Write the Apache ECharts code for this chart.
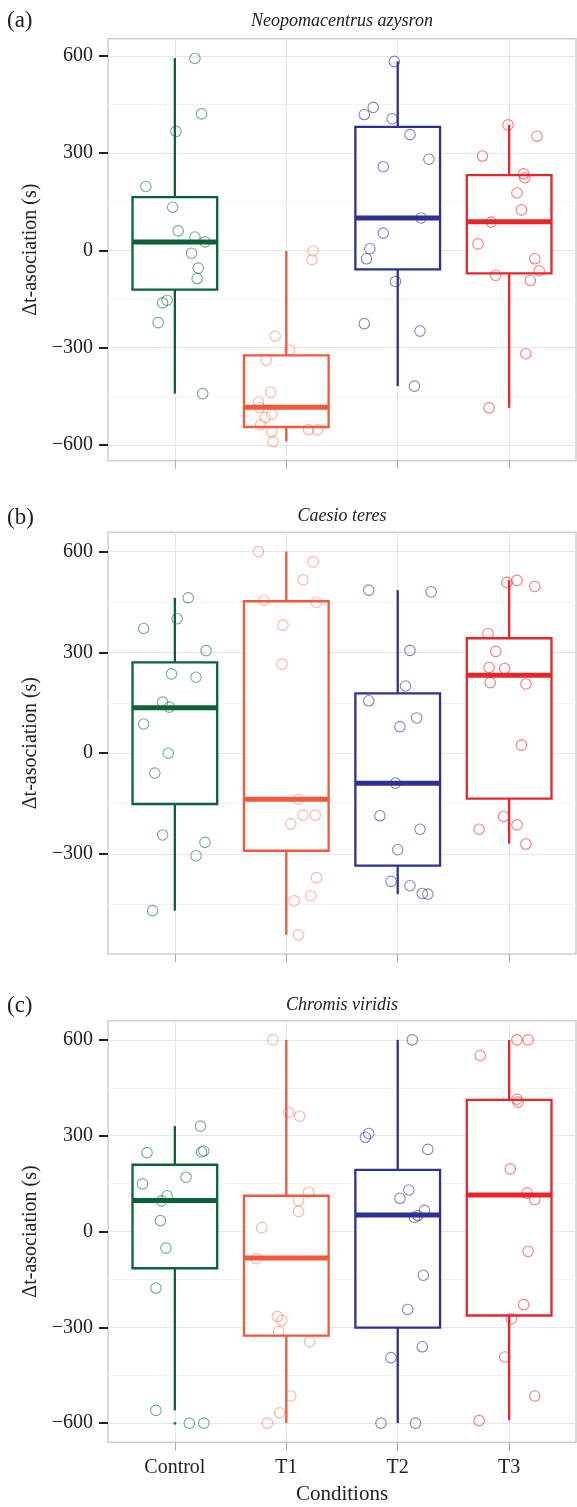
<!DOCTYPE html>
<html>
<head>
<meta charset="utf-8">
<script src="https://cdn.jsdelivr.net/npm/echarts@6/dist/echarts.min.js"></script>
<style>html,body{margin:0;padding:0;background:#fff;}#c{width:577px;height:1507px;}</style>
</head>
<body>
<div id="c"></div>
<script>
// ---------- data ----------
const categories = ['Control', 'T1', 'T2', 'T3'];
const panelLetters = ['(a)', '(b)', '(c)'];
const species = ['Neopomacentrus azysron', 'Caesio teres', 'Chromis viridis'];
const yMajorTicks = [[-600, -300, 0, 300, 600], [-300, 0, 300, 600], [-600, -300, 0, 300, 600]];
const yMinorTicks = [-450, -150, 150, 450];
const yRanges = [[-649, 653], [-597, 657], [-660, 660]];

// box stats: [lower whisker, Q1, median, Q3, upper whisker]
const boxA = [[-442, -121, 26, 164, 593], [-590, -545, -484, -324, -2], [-419, -59, 100, 381, 583], [-486, -71, 88, 232, 387]];
const boxB = [[-468, -151, 135, 270, 462], [-540, -290, -137, 452, 600], [-419, -334, -89, 178, 485], [-269, -135, 232, 342, 515]];
const boxC = [[-560, -115, 97, 209, 330], [-600, -326, -83, 112, 600], [-600, -301, 52, 193, 600], [-591, -263, 114, 412, 600]];

// jittered points: [horizontal jitter (category units), value]
const ptsA_Control = [[0.18, 592], [0.24, 421], [0.01, 367], [-0.26, 197], [-0.02, 133], [0.03, 60], [0.18, 41], [0.27, 26], [0.15, -9], [0.21, -55], [0.20, -87], [-0.07, -154], [-0.11, -162], [-0.15, -223], [0.25, -442]];
const ptsA_T1 = [[0.24, -2], [0.23, -29], [-0.10, -265], [0.03, -308], [-0.18, -339], [-0.14, -438], [-0.25, -468], [-0.24, -485], [-0.13, -506], [-0.19, -516], [-0.23, -538], [-0.13, -559], [0.20, -553], [0.28, -554], [-0.12, -590]];
const ptsA_T2 = [[-0.03, 583], [-0.22, 441], [-0.30, 419], [-0.05, 406], [0.11, 357], [0.28, 281], [-0.13, 258], [0.21, 100], [-0.13, 53], [-0.25, 5], [-0.28, -26], [-0.02, -96], [-0.30, -226], [0.20, -249], [0.15, -419]];
const ptsA_T3 = [[-0.01, 387], [0.25, 352], [-0.24, 291], [0.13, 236], [0.14, 224], [0.07, 177], [0.11, 125], [-0.16, 87], [-0.28, 20], [0.23, -26], [0.27, -63], [-0.12, -77], [0.19, -93], [0.15, -319], [-0.18, -486]];

const ptsB_Control = [[0.12, 462], [0.02, 400], [-0.28, 371], [0.28, 305], [-0.03, 236], [0.19, 226], [-0.11, 152], [-0.05, 137], [-0.28, 87], [-0.06, 0], [-0.18, -59], [-0.11, -243], [0.27, -265], [0.19, -305], [-0.20, -468]];
const ptsB_T1 = [[-0.25, 600], [0.24, 569], [0.15, 516], [-0.20, 455], [0.27, 449], [-0.03, 381], [-0.04, 265], [0.11, -137], [0.15, -184], [0.26, -184], [0.04, -210], [0.27, -370], [0.22, -424], [0.07, -439], [0.11, -540]];
const ptsB_T2 = [[-0.26, 485], [0.30, 480], [0.11, 306], [0.07, 200], [-0.26, 156], [0.17, 105], [0.02, 79], [-0.02, -89], [-0.16, -186], [0.20, -226], [0.00, -287], [-0.06, -381], [0.11, -394], [0.22, -417], [0.27, -419]];
const ptsB_T3 = [[-0.02, 508], [0.07, 514], [0.23, 496], [-0.19, 356], [-0.12, 303], [-0.18, 255], [-0.04, 252], [-0.17, 210], [0.15, 206], [0.11, 24], [-0.05, -188], [-0.27, -226], [0.07, -213], [0.15, -270]];

const ptsC_Control = [[0.23, 330], [-0.25, 247], [0.24, 249], [0.26, 252], [0.10, 170], [-0.29, 149], [-0.07, 112], [-0.12, 96], [-0.13, 34], [-0.08, -52], [-0.17, -177], [-0.17, -560], [0.13, -600], [0.26, -600]];
const ptsC_T1 = [[-0.12, 600], [0.02, 373], [0.12, 361], [0.20, 123], [0.11, 97], [0.11, 63], [-0.22, 12], [-0.27, -85], [-0.08, -266], [-0.04, -278], [-0.07, -313], [0.21, -345], [0.04, -515], [-0.06, -568], [-0.17, -600]];
const ptsC_T2 = [[0.13, 600], [-0.26, 307], [-0.29, 295], [0.27, 257], [0.10, 130], [0.02, 104], [0.24, 66], [0.18, 50], [0.15, 44], [0.23, -137], [0.09, -244], [0.22, -361], [-0.06, -395], [-0.15, -600], [0.16, -600]];
const ptsC_T3 = [[0.07, 600], [0.17, 600], [-0.26, 551], [0.07, 414], [0.08, 405], [0.01, 196], [0.16, 120], [0.23, 100], [0.17, -62], [0.13, -229], [0.02, -273], [-0.04, -393], [0.23, -515], [-0.27, -592]];

// boxplot outliers: [category index, value]
const outliersA = [];
const outliersB = [];
const outliersC = [[0, -600]];

// ---------- styling ----------
const boxColors = ['#0b6138', '#f05a3c', '#2e3192', '#e8262a'];
const pointColors = ['rgba(11,110,60,0.72)', 'rgba(244,96,62,0.6)', 'rgba(46,49,160,0.75)', 'rgba(234,38,42,0.75)'];
const FONT = "'Liberation Serif', 'DejaVu Serif', serif";
const BOX_W = 0.76;

const boxes = [boxA, boxB, boxC];
const points = [
  [ptsA_Control, ptsA_T1, ptsA_T2, ptsA_T3],
  [ptsB_Control, ptsB_T1, ptsB_T2, ptsB_T3],
  [ptsC_Control, ptsC_T1, ptsC_T2, ptsC_T3]
];
const outliers = [outliersA, outliersB, outliersC];

const grids = [
  { left: 108, width: 468, top: 38.7, height: 422 },
  { left: 108, width: 468, top: 532.3, height: 421.7 },
  { left: 108, width: 468, top: 1020.7, height: 421.6 }
];

const fmtNum = v => String(v).replace('-', '\u2212');

const xAxes = [], yAxes = [], series = [];
grids.forEach((g, p) => {
  g.show = true; g.borderColor = '#cfcfcf'; g.borderWidth = 1.5; g.backgroundColor = '#fff';
  const isLast = p === 2;
  xAxes.push({
    type: 'value', gridIndex: p, min: -0.6, max: 3.6, position: 'bottom',
    axisLine: { show: false, onZero: false },
    axisTick: { show: true, customValues: [0, 1, 2, 3], length: 8, lineStyle: { color: '#a8a8a8', width: 1 } },
    axisLabel: { show: isLast, customValues: [0, 1, 2, 3], formatter: v => categories[Math.round(v)] || '', fontFamily: FONT, fontSize: 20, color: '#222', margin: 15 },
    splitLine: { show: true, lineStyle: { color: '#e6e6e6', width: 1 } },
    name: isLast ? 'Conditions' : '', nameLocation: 'middle', nameGap: 42,
    nameTextStyle: { fontFamily: FONT, fontSize: 21, color: '#222' }
  });
  yAxes.push({
    type: 'value', gridIndex: p, min: yRanges[p][0], max: yRanges[p][1], position: 'left',
    axisLine: { show: false, onZero: false },
    axisTick: { show: true, customValues: yMajorTicks[p], length: 9, lineStyle: { color: '#222', width: 2 } },
    axisLabel: { customValues: yMajorTicks[p], formatter: fmtNum, fontFamily: FONT, fontSize: 20, color: '#222', margin: 15 },
    splitLine: { show: true, lineStyle: { color: '#e6e6e6', width: 1 } },
    name: '\u0394t-asociation (s)', nameLocation: 'middle', nameGap: 66,
    nameTextStyle: { fontFamily: FONT, fontSize: 20, color: '#222' }
  });
  yAxes.push({
    type: 'value', gridIndex: p, position: 'left', min: yRanges[p][0], max: yRanges[p][1],
    axisLine: { show: false, onZero: false }, axisLabel: { show: false },
    axisTick: { show: false, customValues: yMinorTicks },
    splitLine: { show: true, lineStyle: { color: '#f3f3f3', width: 1 } }
  });

  series.push({
    type: 'custom', xAxisIndex: p, yAxisIndex: 2 * p, z: 3,
    data: boxes[p].map((b, i) => [i].concat(b)),
    encode: { x: 0, y: [1, 2, 3, 4, 5] },
    renderItem: function (params, api) {
      const x = api.value(0);
      const low = api.coord([x, api.value(1)]);
      const q1 = api.coord([x, api.value(2)]);
      const med = api.coord([x, api.value(3)]);
      const q3 = api.coord([x, api.value(4)]);
      const high = api.coord([x, api.value(5)]);
      const half = api.coord([x + BOX_W / 2, 0])[0] - low[0];
      const c = boxColors[x];
      const lw = 2.3;
      return {
        type: 'group', children: [
          { type: 'line', shape: { x1: low[0], y1: high[1], x2: low[0], y2: q3[1] }, style: { stroke: c, lineWidth: lw } },
          { type: 'line', shape: { x1: low[0], y1: q1[1], x2: low[0], y2: low[1] }, style: { stroke: c, lineWidth: lw } },
          { type: 'rect', shape: { x: low[0] - half, y: q3[1], width: 2 * half, height: q1[1] - q3[1] }, style: { fill: '#fff', stroke: c, lineWidth: lw } },
          { type: 'line', shape: { x1: low[0] - half, y1: med[1], x2: low[0] + half, y2: med[1] }, style: { stroke: c, lineWidth: 5 } }
        ]
      };
    }
  });
  series.push({
    type: 'scatter', xAxisIndex: p, yAxisIndex: 2 * p, z: 4,
    symbol: 'circle', symbolSize: 3,
    data: outliers[p].map(o => [o[0], o[1]]),
    itemStyle: { color: boxColors[0] }
  });
  points[p].forEach((grp, i) => {
    series.push({
      type: 'scatter', xAxisIndex: p, yAxisIndex: 2 * p, z: 5,
      symbol: 'circle', symbolSize: 10.5,
      data: grp.map(d => [i + d[0], d[1]]),
      itemStyle: { color: 'rgba(0,0,0,0)', borderColor: pointColors[i], borderWidth: 1.1 }
    });
  });
});

const letterY = [21, 518, 1006];
const titleY = [21, 516, 1005];
const graphics = [];
panelLetters.forEach((t, i) => {
  graphics.push({ type: 'text', x: 7, y: letterY[i], style: { text: t, font: '23px ' + FONT, fill: '#222', textVerticalAlign: 'middle' } });
  graphics.push({ type: 'text', x: 342, y: titleY[i], style: { text: species[i], font: 'italic 18px ' + FONT, fill: '#222', textAlign: 'center', textVerticalAlign: 'middle' } });
});

const chart = echarts.init(document.getElementById('c'), null, { renderer: 'canvas' });
chart.setOption({
  animation: false,
  backgroundColor: '#fff',
  grid: grids,
  xAxis: xAxes,
  yAxis: yAxes,
  series: series,
  graphic: graphics
});
</script>
</body>
</html>
